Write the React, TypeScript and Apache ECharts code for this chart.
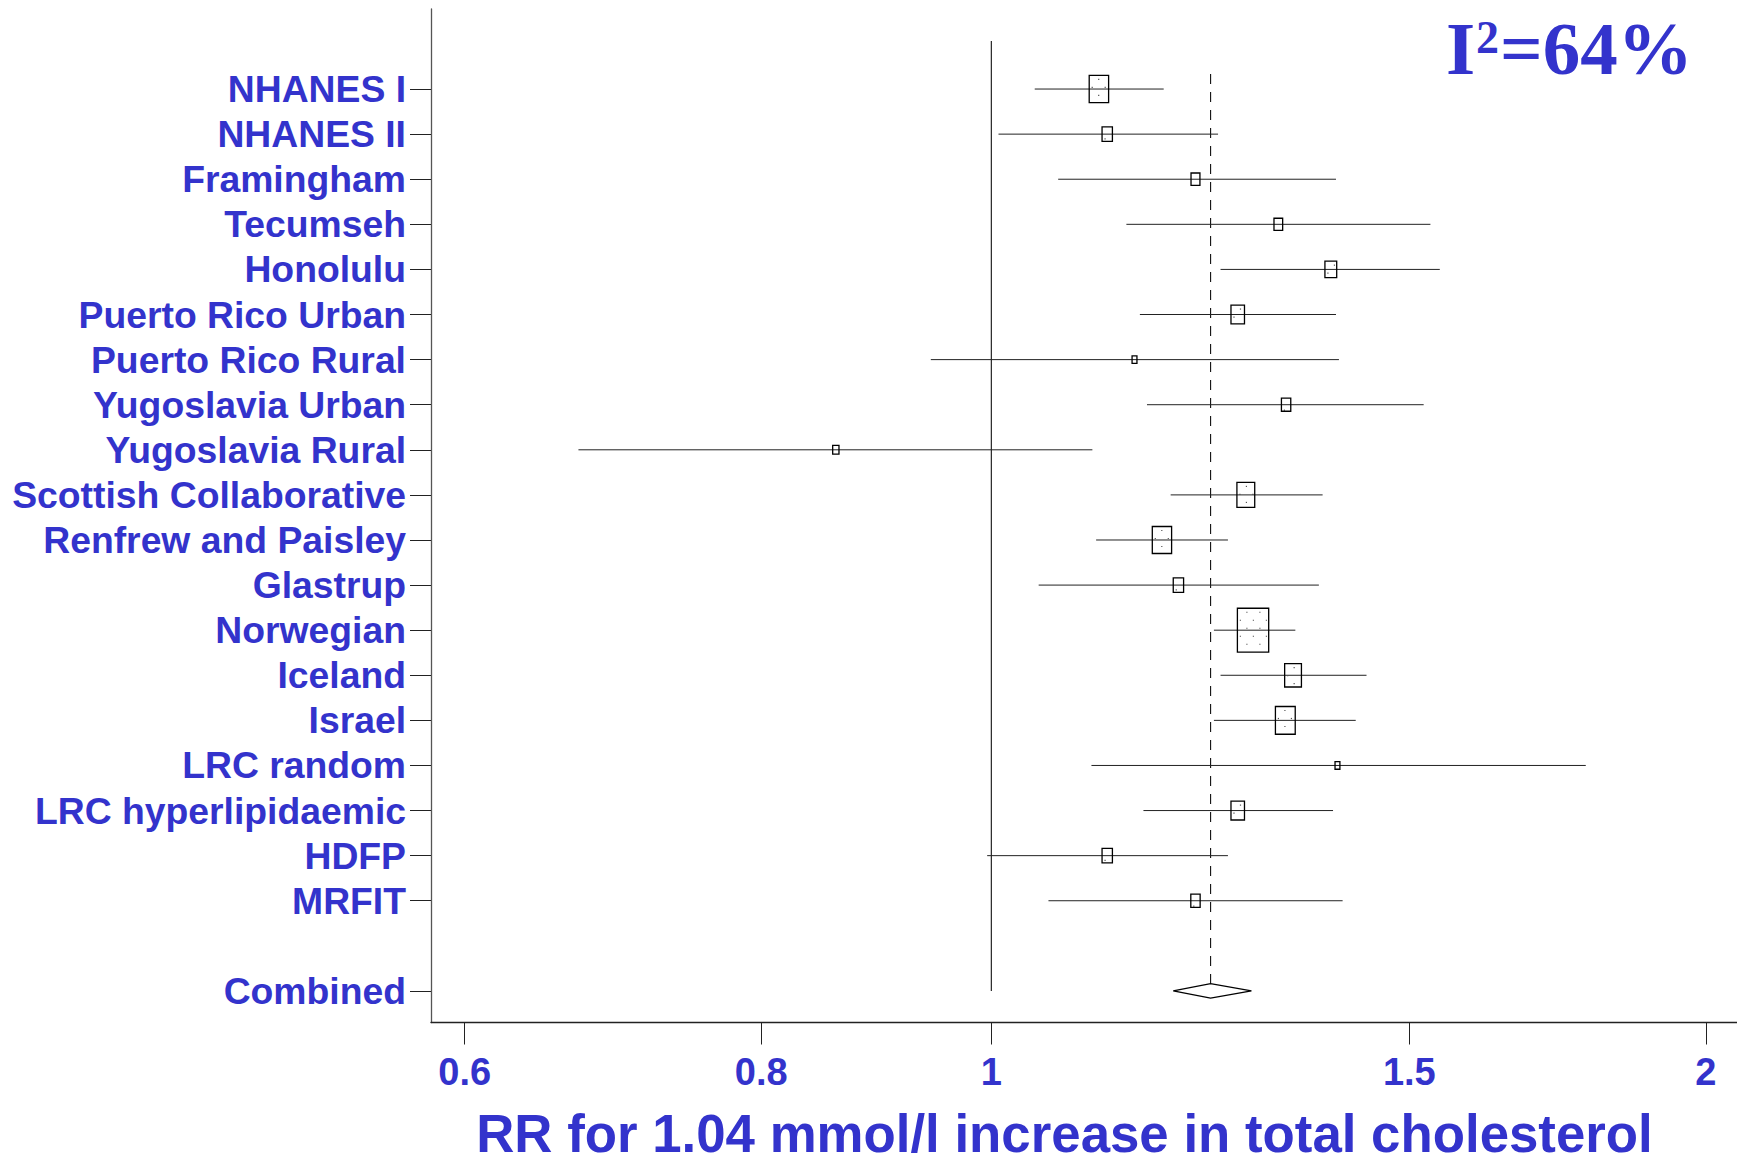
import React, { useEffect, useRef } from 'react';
import * as echarts from 'echarts';

// ---------- data ----------
const studies = [
  'NHANES I', 'NHANES II', 'Framingham', 'Tecumseh', 'Honolulu',
  'Puerto Rico Urban', 'Puerto Rico Rural', 'Yugoslavia Urban', 'Yugoslavia Rural',
  'Scottish Collaborative', 'Renfrew and Paisley', 'Glastrup', 'Norwegian', 'Iceland',
  'Israel', 'LRC random', 'LRC hyperlipidaemic', 'HDFP', 'MRFIT',
];
const rr = [1.110, 1.119, 1.219, 1.321, 1.390, 1.270, 1.149, 1.331, 0.860, 1.280, 1.180, 1.199, 1.289, 1.340, 1.330, 1.399, 1.270, 1.119, 1.219];
const ciLow = [1.043, 1.007, 1.067, 1.140, 1.249, 1.155, 0.943, 1.163, 0.670, 1.190, 1.107, 1.047, 1.241, 1.249, 1.241, 1.102, 1.159, 0.996, 1.057];
const ciHigh = [1.182, 1.246, 1.397, 1.531, 1.545, 1.397, 1.401, 1.521, 1.103, 1.379, 1.258, 1.374, 1.343, 1.439, 1.424, 1.780, 1.393, 1.258, 1.406];
const weights = [9.5, 2.7, 2.0, 1.9, 3.5, 4.6, 0.6, 2.2, 1.0, 8.0, 9.4, 2.7, 24.7, 7.1, 9.9, 0.6, 4.6, 2.7, 2.2];

const combinedLabel = 'Combined';
const combinedRR = 1.237;
const combinedLow = 1.193;
const combinedHigh = 1.287;

const xTicks = [0.6, 0.8, 1, 1.5, 2];
const heterogeneityI2 = 64;
const xTitle = 'RR for 1.04 mmol/l increase in total cholesterol';

// ---------- derived ----------
const COMBINED_ROW = studies.length + 1;
const rowLabels: string[] = [...studies, '', combinedLabel];
const rowTicks: number[] = [...studies.map((_, i) => i), COMBINED_ROW];
const logTicks = xTicks.map((v) => Math.log(v));

const BLUE = '#3333CC';
const SANS = '"Liberation Sans", Arial, Helvetica, sans-serif';
const SERIF = '"Liberation Serif", "Times New Roman", serif';

export default function App() {
  const ref = useRef<HTMLDivElement>(null);

  useEffect(() => {
    if (!ref.current) return;
    const chart = echarts.init(ref.current, undefined, { renderer: 'svg' });

    const studyData = studies.map((_, i) => [
      Math.log(rr[i]), i, Math.log(ciLow[i]), Math.log(ciHigh[i]), weights[i],
    ]);
    const diamondHalf = 7.2;

    const option: any = {
      animation: false,
      backgroundColor: '#ffffff',
      grid: { left: 431, right: 0, top: 9, bottom: 140.5, containLabel: false },
      xAxis: {
        type: 'value',
        min: -0.5435,
        max: 0.7233,
        splitLine: { show: false },
        axisLine: { show: true, onZero: false, lineStyle: { color: '#222', width: 1.3 } },
        axisTick: { show: true, customValues: logTicks, length: 22, lineStyle: { color: '#222', width: 1 } },
        axisLabel: {
          customValues: logTicks,
          formatter: (v: number) => {
            let best = 0;
            logTicks.forEach((t, i) => { if (Math.abs(t - v) < Math.abs(logTicks[best] - v)) best = i; });
            return String(xTicks[best]);
          },
          fontSize: 38,
          fontWeight: 'bold',
          fontFamily: SANS,
          color: BLUE,
          margin: 49,
          verticalAlign: 'middle',
        },
      },
      yAxis: {
        type: 'value',
        inverse: true,
        min: -1.775,
        max: 20.7,
        splitLine: { show: false },
        axisLine: { show: true, onZero: false, lineStyle: { color: '#555', width: 1.3 } },
        axisTick: { show: true, customValues: rowTicks, length: 21, lineStyle: { color: '#222', width: 1 } },
        axisLabel: {
          customValues: rowTicks,
          formatter: (v: number) => rowLabels[Math.round(v)] ?? '',
          fontSize: 37.3,
          fontWeight: 'bold',
          fontFamily: SANS,
          color: BLUE,
          margin: 25,
        },
      },
      series: [
        {
          type: 'custom',
          name: 'reference',
          data: [
            [0, -1.065, 20, 0],
            [Math.log(combinedRR), -0.333, COMBINED_ROW, 1],
          ],
          renderItem: (params: any, api: any) => {
            const x = api.value(0);
            const top = api.coord([x, api.value(1)]);
            const bot = api.coord([x, api.value(2)]);
            const dashed = api.value(3) === 1;
            return {
              type: 'line',
              shape: { x1: top[0], y1: top[1], x2: bot[0], y2: dashed ? bot[1] - diamondHalf : bot[1] },
              style: { stroke: '#111', lineWidth: 1.1, lineDash: dashed ? [10, 8] : null },
            };
          },
          silent: true,
          z: 1,
        },
        {
          type: 'custom',
          name: 'studies',
          data: studyData,
          renderItem: (params: any, api: any) => {
            const est = api.value(0);
            const row = api.value(1);
            const lo = api.coord([api.value(2), row]);
            const hi = api.coord([api.value(3), row]);
            const c = api.coord([est, row]);
            const area = api.value(4) * 55.5;
            const bw = Math.max(4.2, Math.sqrt(area / 1.4));
            const bh = Math.max(7.6, bw * 1.4);
            const x0 = c[0] - bw / 2;
            const y0 = c[1] - bh / 2;
            const dots: any[] = [];
            // stippled fill inside the boxes
            for (let yy = y0 + 4; yy < y0 + bh - 1; yy += 8) {
              const rowIdx = Math.round((yy - y0) / 8);
              for (let xx = x0 + (rowIdx % 2 === 0 ? 3 : 9.5); xx < x0 + bw - 1; xx += 13) {
                if (bw > 9) dots.push({ type: 'rect', shape: { x: xx - 0.6, y: yy - 0.6, width: 1.2, height: 1.2 }, style: { fill: '#555' } });
              }
            }
            return {
              type: 'group',
              children: [
                { type: 'line', shape: { x1: lo[0], y1: lo[1], x2: hi[0], y2: hi[1] }, style: { stroke: '#222', lineWidth: 1 } },
                ...dots,
                { type: 'rect', shape: { x: x0, y: y0, width: bw, height: bh }, style: { fill: 'none', stroke: '#000', lineWidth: 1.3 } },
              ],
            };
          },
          z: 3,
        },
        {
          type: 'custom',
          name: 'combined',
          data: [[Math.log(combinedRR), COMBINED_ROW, Math.log(combinedLow), Math.log(combinedHigh)]],
          renderItem: (params: any, api: any) => {
            const row = api.value(1);
            const c = api.coord([api.value(0), row]);
            const lo = api.coord([api.value(2), row]);
            const hi = api.coord([api.value(3), row]);
            return {
              type: 'polygon',
              shape: { points: [[lo[0], lo[1]], [c[0], c[1] - diamondHalf], [hi[0], hi[1]], [c[0], c[1] + diamondHalf]] },
              style: { fill: '#fff', stroke: '#000', lineWidth: 1.2 },
            };
          },
          z: 4,
        },
      ],
      graphic: [
        {
          type: 'text', x: 1446, y: 48.7,
          style: { text: 'I', fontSize: 75, fontWeight: 'bold', fontFamily: SERIF, fill: BLUE, verticalAlign: 'middle' },
        },
        {
          type: 'text', x: 1476, y: 37.5,
          style: { text: '2', fontSize: 46, fontWeight: 'bold', fontFamily: SERIF, fill: BLUE, verticalAlign: 'middle' },
        },
        {
          type: 'text', x: 1500, y: 48.7,
          style: { text: `=${heterogeneityI2}%`, fontSize: 75, fontWeight: 'bold', fontFamily: SERIF, fill: BLUE, verticalAlign: 'middle' },
        },
        {
          type: 'text', x: 1064.5, y: 1133.5,
          style: { text: xTitle, fontSize: 52.8, fontWeight: 'bold', fontFamily: SANS, fill: BLUE, align: 'center', verticalAlign: 'middle' },
        },
      ],
    };

    chart.setOption(option);
    return () => chart.dispose();
  }, []);

  return (
    <div
      ref={ref}
      style={{ position: 'fixed', left: 0, top: 0, width: 1737, height: 1163, background: '#fff' }}
    />
  );
}
